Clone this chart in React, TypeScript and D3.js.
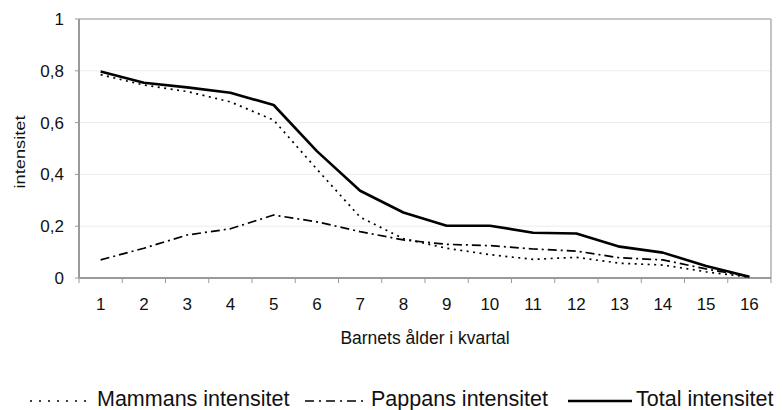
import React from "react";
import * as d3 from "d3";

const categories = ["1","2","3","4","5","6","7","8","9","10","11","12","13","14","15","16"];
const mammans = [0.785, 0.745, 0.72, 0.68, 0.61, 0.42, 0.235, 0.152, 0.115, 0.09, 0.072, 0.08, 0.057, 0.05, 0.024, 0.003];
const pappans = [0.07, 0.115, 0.166, 0.19, 0.243, 0.217, 0.179, 0.147, 0.13, 0.125, 0.112, 0.104, 0.078, 0.07, 0.035, 0.005];
const total = [0.797, 0.754, 0.736, 0.715, 0.668, 0.49, 0.337, 0.253, 0.202, 0.202, 0.175, 0.172, 0.121, 0.098, 0.046, 0.005];
const yTicks = [0, 0.2, 0.4, 0.6, 0.8, 1];
const yTickLabels = ["0", "0,2", "0,4", "0,6", "0,8", "1"];
const seriesNames = ["Mammans intensitet", "Pappans intensitet", "Total intensitet"];
const xTitle = "Barnets ålder i kvartal";
const yTitle = "intensitet";

const W = 782, H = 410;
const L = 79, R = 771, T = 19, B = 278;
const FONT = "'Liberation Sans', Arial, sans-serif";

export default function App() {
  const x = d3.scaleBand<string>().domain(categories).range([L, R]).padding(0);
  const y = d3.scaleLinear().domain([0, 1]).range([B, T]);
  const cx = (c: string) => (x(c) as number) + x.bandwidth() / 2;
  const line = d3.line<number>().x((_, i) => cx(categories[i])).y(d => y(d));

  const styles = [
    { data: mammans, dash: "2,4.5", width: 1.7, ldash: "2,7" },
    { data: pappans, dash: "9,4,2,4", width: 1.7, ldash: "9,5,2,5" },
    { data: total, dash: "", width: 2.6, ldash: "" },
  ];
  const legend = [
    { x1: 30, x2: 93, tx: 97 },
    { x1: 305, x2: 367, tx: 371 },
    { x1: 568, x2: 632, tx: 636 },
  ];

  return (
    <svg width={W} height={H} style={{ position: "absolute", left: 0, top: 0, background: "#fff" }}>
      {yTicks.slice(1, -1).map((t, i) => (
        <line key={"g" + i} x1={L} x2={R} y1={y(t)} y2={y(t)} stroke="#ececec" strokeWidth={1} />
      ))}
      <line x1={L} x2={R} y1={T} y2={T} stroke="#b4b4b4" strokeWidth={1.6} />
      <line x1={R} x2={R} y1={T} y2={B} stroke="#b4b4b4" strokeWidth={1.6} />
      <line x1={L} x2={L} y1={T} y2={B} stroke="#9a9a9a" strokeWidth={2} />
      <line x1={L} x2={R} y1={B} y2={B} stroke="#9a9a9a" strokeWidth={2} />
      {yTicks.map((t, i) => (
        <g key={"yt" + i}>
          <line x1={L - 4} x2={L} y1={y(t)} y2={y(t)} stroke="#9a9a9a" strokeWidth={1} />
          <text x={64} y={y(t) + 6} textAnchor="end" fontSize={17} fontFamily={FONT} fill="#111">{yTickLabels[i]}</text>
        </g>
      ))}
      {categories.map((c, i) => (
        <line key={"xt" + i} x1={x(c) as number} x2={x(c) as number} y1={B} y2={B + 5} stroke="#9a9a9a" strokeWidth={1} />
      ))}
      <line x1={R} x2={R} y1={B} y2={B + 5} stroke="#9a9a9a" strokeWidth={1} />
      {categories.map((c, i) => (
        <text key={"xl" + i} x={cx(c)} y={310} textAnchor="middle" fontSize={17} fontFamily={FONT} fill="#111">{c}</text>
      ))}
      <text x={(L + R) / 2} y={344} textAnchor="middle" fontSize={17.5} fontFamily={FONT} fill="#111">{xTitle}</text>
      <text transform={`translate(25,152) rotate(-90)`} textAnchor="middle" fontSize={15} fontFamily={FONT} fill="#111" textLength={73} lengthAdjust="spacingAndGlyphs">{yTitle}</text>
      {styles.map((s, i) => (
        <path key={"s" + i} d={line(s.data) as string} fill="none" stroke="#000" strokeWidth={s.width} strokeDasharray={s.dash} strokeLinejoin="round" />
      ))}
      {legend.map((l, i) => (
        <g key={"lg" + i}>
          <line x1={l.x1} x2={l.x2} y1={401} y2={401} stroke="#000" strokeWidth={styles[i].width} strokeDasharray={styles[i].ldash} />
          <text x={l.tx} y={406} fontSize={21.5} fontFamily={FONT} fill="#111">{seriesNames[i]}</text>
        </g>
      ))}
    </svg>
  );
}
